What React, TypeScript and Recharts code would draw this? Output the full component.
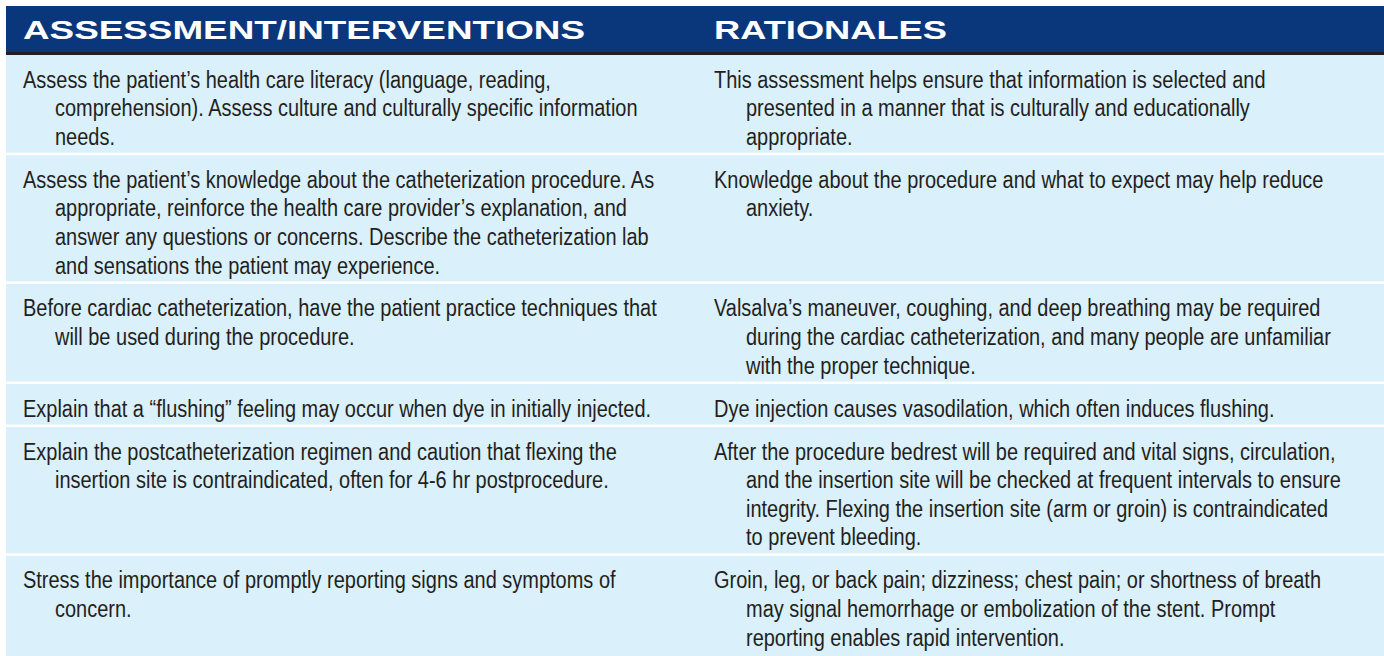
import React from "react";
import { BarChart, Bar, XAxis, YAxis } from "recharts";

const columnHeads = ["ASSESSMENT/INTERVENTIONS", "RATIONALES"];

const interventions: string[][] = [
  [
    "Assess the patient\u2019s health care literacy (language, reading,",
    "comprehension). Assess culture and culturally specific information",
    "needs.",
  ],
  [
    "Assess the patient\u2019s knowledge about the catheterization procedure. As",
    "appropriate, reinforce the health care provider\u2019s explanation, and",
    "answer any questions or concerns. Describe the catheterization lab",
    "and sensations the patient may experience.",
  ],
  [
    "Before cardiac catheterization, have the patient practice techniques that",
    "will be used during the procedure.",
  ],
  ["Explain that a \u201cflushing\u201d feeling may occur when dye in initially injected."],
  [
    "Explain the postcatheterization regimen and caution that flexing the",
    "insertion site is contraindicated, often for 4-6 hr postprocedure.",
  ],
  [
    "Stress the importance of promptly reporting signs and symptoms of",
    "concern.",
  ],
];

const rationales: string[][] = [
  [
    "This assessment helps ensure that information is selected and",
    "presented in a manner that is culturally and educationally",
    "appropriate.",
  ],
  [
    "Knowledge about the procedure and what to expect may help reduce",
    "anxiety.",
  ],
  [
    "Valsalva\u2019s maneuver, coughing, and deep breathing may be required",
    "during the cardiac catheterization, and many people are unfamiliar",
    "with the proper technique.",
  ],
  ["Dye injection causes vasodilation, which often induces flushing."],
  [
    "After the procedure bedrest will be required and vital signs, circulation,",
    "and the insertion site will be checked at frequent intervals to ensure",
    "integrity. Flexing the insertion site (arm or groin) is contraindicated",
    "to prevent bleeding.",
  ],
  [
    "Groin, leg, or back pain; dizziness; chest pain; or shortness of breath",
    "may signal hemorrhage or embolization of the stent. Prompt",
    "reporting enables rapid intervention.",
  ],
];

if (typeof document !== "undefined") document.body.style.margin = "0";

const W = 1384;
const H = 656;
const TOP = 6;
const LEFT = 6;
const HEAD_H = 46;
const RULE_H = 3;
const ROW_PAD = 0.5; // padding per row, in text-line units
const TEXT_PAD = [17, 19];
const INDENT = 32;
const NARROW = 0.85; // no condensed face installed, so squeeze a regular one

const NAVY = "#0a367b";
const ROW_BG = "#daf0fb";
const INK = "#231f20";
const BODY_FONT = '"Liberation Sans", Arial, sans-serif';
const HEAD_FONT = '"Liberation Sans", Arial, sans-serif';

const columns = [interventions, rationales];
const rowUnits = interventions.map((l, i) => Math.max(l.length, rationales[i].length) + ROW_PAD);
const totalUnits = rowUnits.reduce((a, b) => a + b, 0);

const data = columnHeads.map((name) => {
  const entry: Record<string, string | number> = { name };
  rowUnits.forEach((u, i) => {
    entry[`r${i}`] = u;
  });
  return entry;
});

const headWidths = [562, 233];

function HeaderTick(props: any) {
  const { x, payload } = props;
  const half = payload.offset || (W - LEFT) / 4;
  const left = x - half;
  return (
    <g>
      <rect x={left} y={TOP} width={half * 2} height={HEAD_H} fill={NAVY} />
      <rect x={left} y={TOP + HEAD_H} width={half * 2} height={RULE_H} fill="#231f20" />
      <text
        x={left + TEXT_PAD[payload.index]}
        y={TOP + HEAD_H / 2 + 1}
        dominantBaseline="central"
        fill="#ffffff"
        fontFamily={HEAD_FONT}
        fontWeight="bold"
        fontSize={25}
        textLength={headWidths[payload.index]}
        lengthAdjust="spacingAndGlyphs"
      >
        {payload.value}
      </text>
    </g>
  );
}

function makeCell(row: number) {
  const last = row === rowUnits.length - 1;
  return function Cell(props: any) {
    const { x, y, width, height, index } = props;
    const top = Math.min(y, y + height);
    const h = Math.abs(height);
    const unit = h / rowUnits[row];
    const lines = columns[index][row];
    const firstY = top + (ROW_PAD / 2) * unit + unit / 2 + 3;
    return (
      <g>
        <rect x={x} y={top} width={width} height={last ? h : h - 2.5} fill={ROW_BG} />
        {lines.map((line, li) => (
          <text
            key={li}
            transform={`translate(${x + TEXT_PAD[index] + (li > 0 ? INDENT : 0)},${firstY + li * unit}) scale(${NARROW},1)`}
            dominantBaseline="central"
            fill={INK}
            fontFamily={BODY_FONT}
            fontSize={23.5}
          >
            {line}
          </text>
        ))}
      </g>
    );
  };
}

export default function App() {
  return (
    <div style={{ width: W, height: H, background: "#ffffff" }}>
      <BarChart
        width={W}
        height={H}
        data={data}
        margin={{ top: TOP, right: 0, bottom: 0, left: LEFT }}
        barCategoryGap={0}
        barGap={0}
      >
        <XAxis
          dataKey="name"
          orientation="top"
          height={HEAD_H + RULE_H}
          axisLine={false}
          tickLine={false}
          interval={0}
          tick={<HeaderTick />}
        />
        <YAxis type="number" domain={[0, totalUnits]} reversed hide allowDataOverflow />
        {rowUnits.map((_, i) => (
          <Bar
            key={i}
            dataKey={`r${i}`}
            stackId="table"
            isAnimationActive={false}
            shape={makeCell(i)}
          />
        ))}
      </BarChart>
    </div>
  );
}
